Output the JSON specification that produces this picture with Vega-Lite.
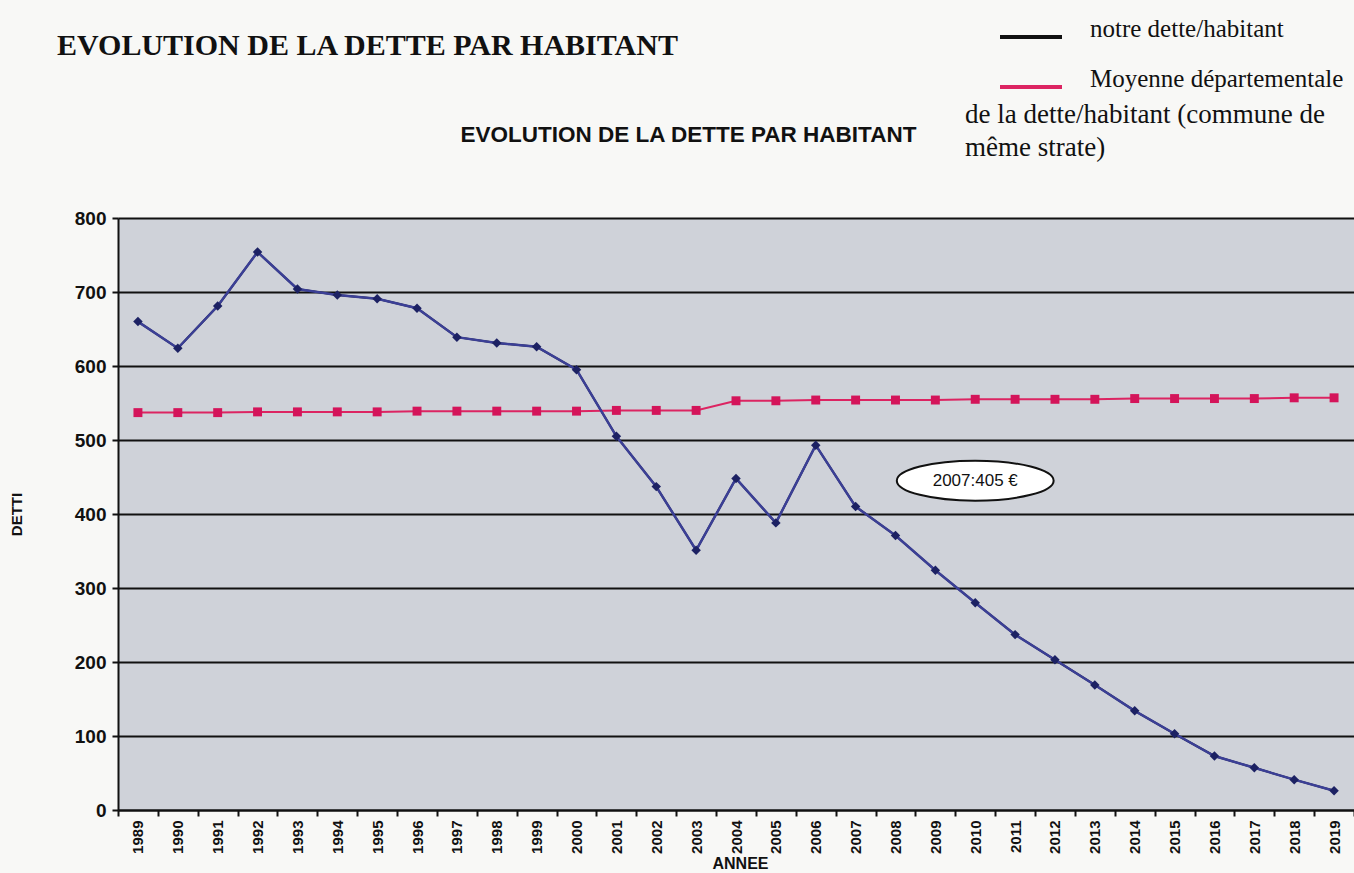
{
  "$schema": "https://vega.github.io/schema/vega-lite/v6.json",
  "autosize": "none",
  "width": 1236,
  "height": 592,
  "padding": {"left": 118, "top": 218, "right": 0, "bottom": 63},
  "background": "#f8f8f6",
  "title": {
    "text": "EVOLUTION DE LA DETTE PAR HABITANT",
    "anchor": "start",
    "frame": "group",
    "dx": -61,
    "offset": -57,
    "font": "Liberation Serif",
    "fontSize": 30,
    "fontWeight": "bold",
    "color": "#111111"
  },
  "config": {
    "view": {"fill": "#cfd2d9", "stroke": null},
    "font": "Liberation Sans"
  },
  "data": {
    "values": [
      {"annee": 1989, "serie": "notre dette/habitant", "valeur": 660},
      {"annee": 1990, "serie": "notre dette/habitant", "valeur": 624},
      {"annee": 1991, "serie": "notre dette/habitant", "valeur": 681},
      {"annee": 1992, "serie": "notre dette/habitant", "valeur": 754},
      {"annee": 1993, "serie": "notre dette/habitant", "valeur": 704},
      {"annee": 1994, "serie": "notre dette/habitant", "valeur": 696},
      {"annee": 1995, "serie": "notre dette/habitant", "valeur": 691},
      {"annee": 1996, "serie": "notre dette/habitant", "valeur": 678},
      {"annee": 1997, "serie": "notre dette/habitant", "valeur": 639},
      {"annee": 1998, "serie": "notre dette/habitant", "valeur": 631},
      {"annee": 1999, "serie": "notre dette/habitant", "valeur": 626},
      {"annee": 2000, "serie": "notre dette/habitant", "valeur": 595},
      {"annee": 2001, "serie": "notre dette/habitant", "valeur": 505},
      {"annee": 2002, "serie": "notre dette/habitant", "valeur": 437},
      {"annee": 2003, "serie": "notre dette/habitant", "valeur": 351},
      {"annee": 2004, "serie": "notre dette/habitant", "valeur": 448},
      {"annee": 2005, "serie": "notre dette/habitant", "valeur": 388},
      {"annee": 2006, "serie": "notre dette/habitant", "valeur": 493},
      {"annee": 2007, "serie": "notre dette/habitant", "valeur": 410},
      {"annee": 2008, "serie": "notre dette/habitant", "valeur": 371},
      {"annee": 2009, "serie": "notre dette/habitant", "valeur": 324},
      {"annee": 2010, "serie": "notre dette/habitant", "valeur": 280},
      {"annee": 2011, "serie": "notre dette/habitant", "valeur": 237},
      {"annee": 2012, "serie": "notre dette/habitant", "valeur": 203},
      {"annee": 2013, "serie": "notre dette/habitant", "valeur": 169},
      {"annee": 2014, "serie": "notre dette/habitant", "valeur": 134},
      {"annee": 2015, "serie": "notre dette/habitant", "valeur": 103},
      {"annee": 2016, "serie": "notre dette/habitant", "valeur": 73},
      {"annee": 2017, "serie": "notre dette/habitant", "valeur": 57},
      {"annee": 2018, "serie": "notre dette/habitant", "valeur": 41},
      {"annee": 2019, "serie": "notre dette/habitant", "valeur": 26},
      {"annee": 1989, "serie": "Moyenne départementale", "valeur": 537},
      {"annee": 1990, "serie": "Moyenne départementale", "valeur": 537},
      {"annee": 1991, "serie": "Moyenne départementale", "valeur": 537},
      {"annee": 1992, "serie": "Moyenne départementale", "valeur": 538},
      {"annee": 1993, "serie": "Moyenne départementale", "valeur": 538},
      {"annee": 1994, "serie": "Moyenne départementale", "valeur": 538},
      {"annee": 1995, "serie": "Moyenne départementale", "valeur": 538},
      {"annee": 1996, "serie": "Moyenne départementale", "valeur": 539},
      {"annee": 1997, "serie": "Moyenne départementale", "valeur": 539},
      {"annee": 1998, "serie": "Moyenne départementale", "valeur": 539},
      {"annee": 1999, "serie": "Moyenne départementale", "valeur": 539},
      {"annee": 2000, "serie": "Moyenne départementale", "valeur": 539},
      {"annee": 2001, "serie": "Moyenne départementale", "valeur": 540},
      {"annee": 2002, "serie": "Moyenne départementale", "valeur": 540},
      {"annee": 2003, "serie": "Moyenne départementale", "valeur": 540},
      {"annee": 2004, "serie": "Moyenne départementale", "valeur": 553},
      {"annee": 2005, "serie": "Moyenne départementale", "valeur": 553},
      {"annee": 2006, "serie": "Moyenne départementale", "valeur": 554},
      {"annee": 2007, "serie": "Moyenne départementale", "valeur": 554},
      {"annee": 2008, "serie": "Moyenne départementale", "valeur": 554},
      {"annee": 2009, "serie": "Moyenne départementale", "valeur": 554},
      {"annee": 2010, "serie": "Moyenne départementale", "valeur": 555},
      {"annee": 2011, "serie": "Moyenne départementale", "valeur": 555},
      {"annee": 2012, "serie": "Moyenne départementale", "valeur": 555},
      {"annee": 2013, "serie": "Moyenne départementale", "valeur": 555},
      {"annee": 2014, "serie": "Moyenne départementale", "valeur": 556},
      {"annee": 2015, "serie": "Moyenne départementale", "valeur": 556},
      {"annee": 2016, "serie": "Moyenne départementale", "valeur": 556},
      {"annee": 2017, "serie": "Moyenne départementale", "valeur": 556},
      {"annee": 2018, "serie": "Moyenne départementale", "valeur": 557},
      {"annee": 2019, "serie": "Moyenne départementale", "valeur": 557}
    ]
  },
  "resolve": {"axis": {"x": "independent"}},
  "layer": [
    {
      "mark": {"type": "line", "strokeWidth": 2},
      "encoding": {
        "x": {
          "field": "annee",
          "type": "ordinal",
          "scale": {"type": "band", "paddingInner": 0, "paddingOuter": 0},
          "axis": {
            "orient": "bottom",
            "title": "ANNEE",
            "labelAngle": 270,
            "labelFontSize": 15,
            "labelFontWeight": "bold",
            "labelColor": "#111111",
            "labelPadding": 4,
            "tickBand": "extent",
            "tickColor": "#111111",
            "tickSize": 6,
            "tickWidth": 2,
            "domainColor": "#111111",
            "domainWidth": 2,
            "titleFontSize": 16,
            "titleFontWeight": "bold",
            "titleColor": "#111111",
            "titlePadding": 2,
            "titleX": 622
          }
        },
        "y": {
          "field": "valeur",
          "type": "quantitative",
          "scale": {"domain": [0, 800], "nice": false},
          "axis": {
            "title": "DETTI",
            "values": [0, 100, 200, 300, 400, 500, 600, 700, 800],
            "grid": true,
            "gridColor": "#111111",
            "gridWidth": 2,
            "gridOpacity": 1,
            "domainColor": "#111111",
            "domainWidth": 2,
            "tickColor": "#111111",
            "tickSize": 6,
            "tickWidth": 2,
            "labelFontSize": 19,
            "labelFontWeight": "bold",
            "labelColor": "#111111",
            "labelPadding": 6,
            "titleFontSize": 15,
            "titleFontWeight": "bold",
            "titleColor": "#111111",
            "titlePadding": 50
          }
        },
        "color": {
          "field": "serie",
          "type": "nominal",
          "scale": {
            "domain": ["notre dette/habitant", "Moyenne départementale"],
            "range": ["#111111", "#dc2462"]
          },
          "legend": {
            "orient": "none",
            "legendX": 847,
            "legendY": -214,
            "title": ["de la dette/habitant (commune de", "même strate)"],
            "titleOrient": "bottom",
            "titleAnchor": "start",
            "titleFont": "Liberation Serif",
            "titleFontSize": 27,
            "titleFontWeight": "normal",
            "titleColor": "#111111",
            "titleLineHeight": 33,
            "titleLimit": 600,
            "titlePadding": 7,
            "symbolType": "stroke",
            "symbolSize": 3844,
            "symbolStrokeWidth": 4,
            "symbolOffset": 33,
            "labelFont": "Liberation Serif",
            "labelFontSize": 25,
            "labelColor": "#111111",
            "labelLimit": 500,
            "labelOffset": 26,
            "labelBaseline": "alphabetic",
            "rowPadding": 9
          }
        }
      }
    },
    {
      "transform": [{"filter": "datum.serie == 'notre dette/habitant'"}],
      "mark": {"type": "line", "strokeWidth": 2.5, "color": "#3b3f96"},
      "encoding": {
        "x": {"field": "annee", "type": "ordinal", "axis": null},
        "y": {"field": "valeur", "type": "quantitative"}
      }
    },
    {
      "transform": [{"filter": "datum.serie == 'notre dette/habitant'"}],
      "mark": {"type": "point", "shape": "diamond", "filled": true, "size": 90, "color": "#1c2163", "opacity": 1},
      "encoding": {
        "x": {"field": "annee", "type": "ordinal", "axis": null},
        "y": {"field": "valeur", "type": "quantitative"}
      }
    },
    {
      "transform": [{"filter": "datum.serie != 'notre dette/habitant'"}],
      "mark": {"type": "point", "shape": "square", "filled": true, "size": 80, "color": "#d4145a", "opacity": 1},
      "encoding": {
        "x": {"field": "annee", "type": "ordinal", "axis": null},
        "y": {"field": "valeur", "type": "quantitative"}
      }
    },
    {
      "data": {"values": [{}]},
      "mark": {"type": "point", "shape": "M -1 0 A 1 0.255 0 1 1 1 0 A 1 0.255 0 1 1 -1 0 Z", "size": 24600, "filled": true, "fill": "white", "stroke": "#111111", "strokeWidth": 2, "opacity": 1},
      "encoding": {
        "x": {"datum": 2010, "type": "ordinal", "axis": null},
        "y": {"datum": 445, "type": "quantitative"}
      }
    },
    {
      "data": {"values": [{}]},
      "mark": {"type": "text", "text": "2007:405 €", "fontSize": 17, "color": "#111111"},
      "encoding": {
        "x": {"datum": 2010, "type": "ordinal", "axis": null},
        "y": {"datum": 445, "type": "quantitative"}
      }
    },
    {
      "mark": {"type": "point", "opacity": 0},
      "encoding": {
        "x": {
          "field": "annee",
          "type": "ordinal",
          "axis": {
            "orient": "top",
            "title": "EVOLUTION DE LA DETTE PAR HABITANT",
            "labels": false,
            "ticks": false,
            "domain": false,
            "titleFontSize": 22.5,
            "titleFontWeight": "bold",
            "titleColor": "#111111",
            "titlePadding": 72,
            "titleX": 570
          }
        }
      }
    }
  ]
}
